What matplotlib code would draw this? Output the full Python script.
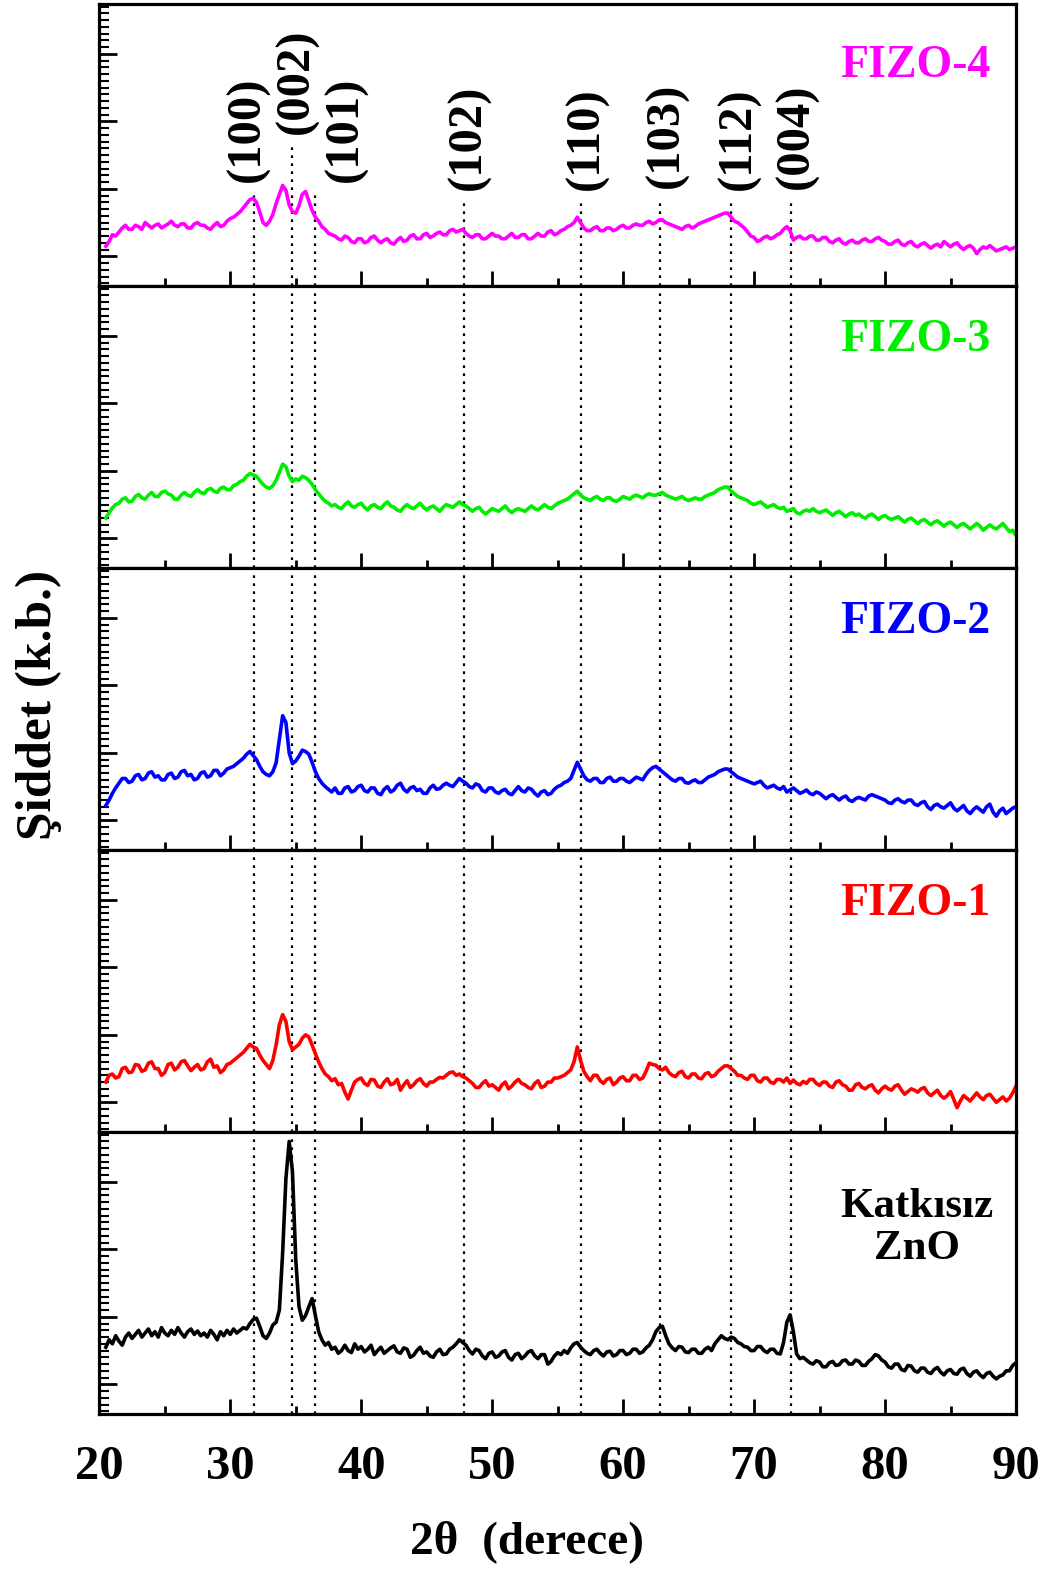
import numpy as np
import matplotlib
matplotlib.use("Agg")
import matplotlib.pyplot as plt
from matplotlib.ticker import MultipleLocator, NullFormatter

plt.rcParams['font.family'] = ['Liberation Serif', 'DejaVu Serif']
plt.rcParams['font.weight'] = 'bold'

# Scan angles (2-theta, degrees), 0.25 degree step
two_theta = np.arange(20.5, 90.001, 0.25)

# Intensities (arbitrary units) for each sample, one row per 2.5 degrees
zno = [
    0.55, 0.66, 0.60, 0.72, 0.64, 0.58, 0.70, 0.76, 0.68, 0.74,
    0.80, 0.70, 0.76, 0.82, 0.72, 0.78, 0.70, 0.84, 0.76, 0.72,
    0.80, 0.74, 0.84, 0.76, 0.70, 0.78, 0.82, 0.74, 0.79, 0.72,
    0.76, 0.70, 0.80, 0.74, 0.66, 0.78, 0.72, 0.80, 0.74, 0.82,
    0.76, 0.80, 0.84, 0.82, 0.90, 0.96, 0.98, 0.86, 0.72, 0.68,
    0.76, 0.88, 0.92, 1.10, 1.95, 3.05, 3.60, 3.15, 1.85, 1.15,
    0.95, 1.02, 1.15, 1.27, 1.02, 0.78, 0.66, 0.58, 0.62, 0.52,
    0.55, 0.46, 0.50, 0.58, 0.50, 0.47, 0.60, 0.52, 0.56, 0.48,
    0.52, 0.58, 0.44, 0.50, 0.55, 0.46, 0.50, 0.54, 0.57, 0.48,
    0.46, 0.54, 0.52, 0.40, 0.43, 0.50, 0.55, 0.46, 0.48, 0.42,
    0.40, 0.48, 0.52, 0.44, 0.45, 0.52, 0.55, 0.60, 0.66, 0.62,
    0.58, 0.50, 0.45, 0.52, 0.50, 0.42, 0.38, 0.46, 0.48, 0.40,
    0.42, 0.48, 0.50, 0.40, 0.36, 0.44, 0.46, 0.38, 0.42, 0.48,
    0.50, 0.42, 0.38, 0.44, 0.44, 0.30, 0.34, 0.42, 0.47, 0.44,
    0.50, 0.46, 0.54, 0.60, 0.62, 0.55, 0.50, 0.46, 0.44, 0.50,
    0.52, 0.46, 0.42, 0.48, 0.49, 0.42, 0.44, 0.50, 0.50, 0.44,
    0.46, 0.52, 0.52, 0.46, 0.48, 0.54, 0.58, 0.66, 0.78, 0.84,
    0.86, 0.72, 0.60, 0.54, 0.50, 0.56, 0.55, 0.48, 0.47, 0.52,
    0.52, 0.46, 0.46, 0.52, 0.55, 0.50, 0.60, 0.66, 0.72, 0.68,
    0.66, 0.70, 0.68, 0.62, 0.60, 0.56, 0.55, 0.50, 0.50, 0.56,
    0.56, 0.50, 0.47, 0.52, 0.52, 0.46, 0.45, 0.62, 0.92, 1.03,
    0.78, 0.45, 0.38, 0.40, 0.36, 0.32, 0.30, 0.35, 0.33, 0.26,
    0.26, 0.32, 0.34, 0.28, 0.29, 0.35, 0.36, 0.30, 0.30, 0.36,
    0.34, 0.28, 0.28, 0.34, 0.38, 0.44, 0.42, 0.36, 0.33, 0.26,
    0.24, 0.30, 0.30, 0.22, 0.20, 0.28, 0.27, 0.20, 0.18, 0.24,
    0.24, 0.18, 0.16, 0.22, 0.25, 0.18, 0.14, 0.20, 0.22, 0.16,
    0.15, 0.22, 0.24, 0.16, 0.12, 0.18, 0.20, 0.14, 0.10, 0.16,
    0.18, 0.12, 0.08, 0.12, 0.14, 0.20, 0.20, 0.28, 0.32,
]

fizo1 = [
    0.30, 0.40, 0.42, 0.36, 0.38, 0.50, 0.52, 0.44, 0.45, 0.56,
    0.55, 0.46, 0.48, 0.58, 0.60, 0.50, 0.50, 0.40, 0.44, 0.56,
    0.58, 0.48, 0.52, 0.60, 0.62, 0.54, 0.47, 0.52, 0.56, 0.48,
    0.50, 0.60, 0.64, 0.52, 0.54, 0.44, 0.48, 0.56, 0.58, 0.62,
    0.66, 0.70, 0.74, 0.80, 0.86, 0.82, 0.80, 0.70, 0.62, 0.56,
    0.50, 0.62, 0.85, 1.15, 1.30, 1.20, 0.90, 0.78, 0.82, 0.86,
    0.95, 1.00, 0.97, 0.85, 0.72, 0.60, 0.50, 0.42, 0.38, 0.32,
    0.35, 0.26, 0.28, 0.15, 0.05, 0.18, 0.30, 0.34, 0.36, 0.28,
    0.25, 0.34, 0.33, 0.24, 0.22, 0.30, 0.35, 0.26, 0.28, 0.34,
    0.18, 0.26, 0.32, 0.22, 0.26, 0.32, 0.35, 0.28, 0.24, 0.30,
    0.30, 0.34, 0.37, 0.36, 0.40, 0.44, 0.45, 0.40, 0.42, 0.38,
    0.36, 0.32, 0.28, 0.22, 0.22, 0.28, 0.32, 0.24, 0.26, 0.22,
    0.18, 0.26, 0.30, 0.20, 0.24, 0.30, 0.34, 0.28, 0.26, 0.22,
    0.20, 0.28, 0.32, 0.22, 0.24, 0.30, 0.30, 0.36, 0.36, 0.38,
    0.40, 0.44, 0.48, 0.60, 0.82, 0.62, 0.46, 0.38, 0.32, 0.40,
    0.40, 0.32, 0.28, 0.34, 0.36, 0.26, 0.30, 0.36, 0.38, 0.32,
    0.32, 0.40, 0.40, 0.34, 0.36, 0.46, 0.58, 0.56, 0.55, 0.50,
    0.48, 0.52, 0.44, 0.40, 0.38, 0.44, 0.46, 0.38, 0.36, 0.42,
    0.42, 0.36, 0.35, 0.42, 0.44, 0.38, 0.40, 0.46, 0.50, 0.54,
    0.54, 0.50, 0.46, 0.40, 0.40, 0.36, 0.34, 0.40, 0.40, 0.32,
    0.30, 0.36, 0.36, 0.30, 0.28, 0.34, 0.34, 0.30, 0.36, 0.28,
    0.33, 0.28, 0.26, 0.31, 0.28, 0.34, 0.34, 0.28, 0.25, 0.30,
    0.30, 0.24, 0.22, 0.30, 0.32, 0.26, 0.24, 0.18, 0.18, 0.26,
    0.28, 0.22, 0.20, 0.24, 0.26, 0.18, 0.14, 0.20, 0.24, 0.20,
    0.18, 0.24, 0.26, 0.18, 0.12, 0.16, 0.20, 0.18, 0.15, 0.20,
    0.22, 0.14, 0.10, 0.14, 0.18, 0.10, 0.06, 0.10, 0.16, 0.04,
    -0.08, 0.02, 0.10, 0.06, 0.02, 0.08, 0.14, 0.08, 0.04, 0.10,
    0.12, 0.06, 0.00, 0.04, 0.08, 0.02, 0.06, 0.14, 0.24,
]

fizo2 = [
    0.22, 0.30, 0.40, 0.48, 0.55, 0.62, 0.62, 0.56, 0.58, 0.66,
    0.68, 0.60, 0.62, 0.70, 0.72, 0.64, 0.66, 0.60, 0.60, 0.68,
    0.70, 0.62, 0.64, 0.72, 0.74, 0.66, 0.68, 0.60, 0.62, 0.70,
    0.72, 0.64, 0.66, 0.74, 0.74, 0.66, 0.70, 0.76, 0.78, 0.80,
    0.84, 0.88, 0.92, 0.98, 1.02, 0.96, 0.90, 0.80, 0.72, 0.68,
    0.66, 0.72, 0.85, 1.20, 1.55, 1.45, 1.00, 0.84, 0.88, 0.95,
    1.04, 1.02, 0.98, 0.86, 0.72, 0.62, 0.55, 0.50, 0.46, 0.42,
    0.48, 0.40, 0.40, 0.48, 0.50, 0.42, 0.44, 0.50, 0.52, 0.44,
    0.42, 0.48, 0.48, 0.40, 0.38, 0.46, 0.50, 0.42, 0.45, 0.52,
    0.55, 0.46, 0.42, 0.48, 0.50, 0.44, 0.46, 0.40, 0.40, 0.48,
    0.52, 0.46, 0.47, 0.52, 0.55, 0.52, 0.50, 0.56, 0.62, 0.58,
    0.55, 0.50, 0.48, 0.54, 0.52, 0.44, 0.42, 0.48, 0.48, 0.42,
    0.40, 0.44, 0.46, 0.40, 0.38, 0.44, 0.50, 0.44, 0.42, 0.48,
    0.46, 0.40, 0.36, 0.42, 0.44, 0.38, 0.40, 0.46, 0.50, 0.52,
    0.56, 0.58, 0.62, 0.74, 0.86, 0.76, 0.66, 0.60, 0.58, 0.62,
    0.62, 0.56, 0.56, 0.62, 0.64, 0.58, 0.58, 0.62, 0.62, 0.58,
    0.56, 0.60, 0.64, 0.62, 0.60, 0.68, 0.74, 0.78, 0.80, 0.76,
    0.72, 0.68, 0.64, 0.60, 0.58, 0.62, 0.62, 0.56, 0.55, 0.58,
    0.60, 0.56, 0.56, 0.60, 0.64, 0.66, 0.68, 0.72, 0.74, 0.76,
    0.76, 0.72, 0.68, 0.64, 0.62, 0.60, 0.58, 0.56, 0.54, 0.56,
    0.58, 0.52, 0.48, 0.50, 0.52, 0.48, 0.46, 0.50, 0.42, 0.45,
    0.48, 0.44, 0.40, 0.42, 0.45, 0.40, 0.38, 0.42, 0.40, 0.36,
    0.32, 0.36, 0.38, 0.34, 0.30, 0.34, 0.36, 0.30, 0.28, 0.32,
    0.34, 0.32, 0.30, 0.36, 0.38, 0.36, 0.34, 0.32, 0.30, 0.26,
    0.25, 0.30, 0.32, 0.28, 0.26, 0.30, 0.30, 0.24, 0.22, 0.26,
    0.28, 0.20, 0.16, 0.22, 0.24, 0.20, 0.18, 0.22, 0.26, 0.18,
    0.14, 0.18, 0.22, 0.14, 0.10, 0.16, 0.20, 0.16, 0.12, 0.20,
    0.24, 0.12, 0.06, 0.14, 0.18, 0.10, 0.14, 0.18, 0.20,
]

fizo3 = [
    0.30, 0.38, 0.45, 0.50, 0.52, 0.58, 0.60, 0.54, 0.55, 0.62,
    0.65, 0.60, 0.58, 0.64, 0.68, 0.62, 0.62, 0.68, 0.70, 0.66,
    0.64, 0.58, 0.58, 0.64, 0.68, 0.64, 0.62, 0.68, 0.72, 0.68,
    0.66, 0.72, 0.74, 0.70, 0.68, 0.74, 0.76, 0.72, 0.72, 0.78,
    0.80, 0.84, 0.86, 0.92, 0.96, 0.94, 0.92, 0.86, 0.80, 0.76,
    0.74, 0.78, 0.86, 0.98, 1.10, 1.06, 0.92, 0.84, 0.88, 0.86,
    0.92, 0.90, 0.86, 0.80, 0.72, 0.66, 0.60, 0.55, 0.52, 0.48,
    0.50, 0.46, 0.44, 0.50, 0.54, 0.48, 0.46, 0.50, 0.52, 0.46,
    0.42, 0.48, 0.50, 0.46, 0.44, 0.50, 0.54, 0.48, 0.46, 0.42,
    0.40, 0.46, 0.50, 0.46, 0.44, 0.48, 0.52, 0.46, 0.42, 0.46,
    0.48, 0.44, 0.40, 0.46, 0.50, 0.48, 0.46, 0.50, 0.54, 0.50,
    0.48, 0.44, 0.40, 0.44, 0.46, 0.40, 0.36, 0.40, 0.44, 0.42,
    0.40, 0.44, 0.48, 0.42, 0.38, 0.42, 0.44, 0.42, 0.40, 0.44,
    0.48, 0.44, 0.42, 0.46, 0.50, 0.46, 0.44, 0.48, 0.52, 0.54,
    0.56, 0.58, 0.62, 0.66, 0.70, 0.64, 0.60, 0.58, 0.56, 0.60,
    0.62, 0.58, 0.56, 0.60, 0.60, 0.56, 0.55, 0.58, 0.62, 0.60,
    0.58, 0.62, 0.64, 0.62, 0.60, 0.64, 0.66, 0.64, 0.64, 0.66,
    0.68, 0.64, 0.62, 0.60, 0.58, 0.60, 0.62, 0.58, 0.56, 0.58,
    0.60, 0.58, 0.58, 0.62, 0.64, 0.66, 0.68, 0.72, 0.74, 0.76,
    0.76, 0.70, 0.66, 0.62, 0.60, 0.58, 0.56, 0.52, 0.50, 0.52,
    0.54, 0.50, 0.46, 0.48, 0.50, 0.46, 0.44, 0.46, 0.40, 0.42,
    0.44, 0.38, 0.36, 0.40, 0.42, 0.40, 0.44, 0.40, 0.38, 0.40,
    0.42, 0.38, 0.34, 0.38, 0.40, 0.36, 0.32, 0.36, 0.38, 0.34,
    0.36, 0.32, 0.30, 0.34, 0.36, 0.32, 0.28, 0.32, 0.34, 0.30,
    0.28, 0.30, 0.32, 0.28, 0.24, 0.28, 0.30, 0.26, 0.22, 0.26,
    0.28, 0.24, 0.20, 0.24, 0.26, 0.22, 0.18, 0.22, 0.24, 0.20,
    0.16, 0.20, 0.22, 0.18, 0.14, 0.18, 0.22, 0.18, 0.12, 0.16,
    0.20, 0.16, 0.14, 0.18, 0.22, 0.16, 0.10, 0.12, 0.04,
]

fizo4 = [
    0.15, 0.22, 0.32, 0.30, 0.36, 0.42, 0.46, 0.40, 0.40, 0.46,
    0.44, 0.40, 0.50, 0.46, 0.42, 0.46, 0.48, 0.42, 0.45, 0.48,
    0.52, 0.46, 0.44, 0.48, 0.48, 0.42, 0.42, 0.48, 0.50, 0.46,
    0.46, 0.42, 0.40, 0.46, 0.50, 0.44, 0.46, 0.52, 0.56, 0.58,
    0.62, 0.66, 0.72, 0.78, 0.84, 0.86, 0.80, 0.66, 0.50, 0.46,
    0.52, 0.62, 0.78, 0.92, 1.05, 0.98, 0.76, 0.66, 0.64, 0.75,
    0.92, 0.96, 0.82, 0.68, 0.58, 0.52, 0.44, 0.40, 0.34, 0.32,
    0.30, 0.26, 0.24, 0.30, 0.28, 0.22, 0.20, 0.26, 0.26, 0.20,
    0.22, 0.28, 0.30, 0.24, 0.20, 0.24, 0.26, 0.20, 0.18, 0.24,
    0.28, 0.22, 0.24, 0.30, 0.32, 0.26, 0.26, 0.32, 0.34, 0.28,
    0.30, 0.34, 0.36, 0.32, 0.32, 0.38, 0.40, 0.36, 0.38, 0.40,
    0.34, 0.30, 0.28, 0.32, 0.32, 0.26, 0.26, 0.30, 0.34, 0.30,
    0.30, 0.26, 0.26, 0.30, 0.34, 0.28, 0.28, 0.32, 0.32, 0.26,
    0.26, 0.30, 0.34, 0.30, 0.30, 0.36, 0.38, 0.32, 0.34, 0.38,
    0.40, 0.44, 0.46, 0.50, 0.58, 0.50, 0.42, 0.38, 0.38, 0.42,
    0.44, 0.38, 0.38, 0.42, 0.42, 0.38, 0.40, 0.44, 0.46, 0.42,
    0.42, 0.46, 0.48, 0.46, 0.46, 0.50, 0.52, 0.48, 0.50, 0.54,
    0.54, 0.50, 0.48, 0.46, 0.44, 0.42, 0.40, 0.44, 0.46, 0.42,
    0.44, 0.48, 0.50, 0.52, 0.54, 0.56, 0.58, 0.60, 0.62, 0.64,
    0.64, 0.58, 0.52, 0.50, 0.46, 0.42, 0.36, 0.30, 0.28, 0.22,
    0.24, 0.28, 0.30, 0.26, 0.28, 0.32, 0.34, 0.40, 0.44, 0.38,
    0.24, 0.28, 0.30, 0.26, 0.26, 0.30, 0.30, 0.24, 0.24, 0.28,
    0.28, 0.22, 0.20, 0.24, 0.26, 0.20, 0.18, 0.22, 0.24, 0.20,
    0.20, 0.24, 0.26, 0.22, 0.22, 0.26, 0.28, 0.24, 0.22, 0.18,
    0.18, 0.22, 0.24, 0.18, 0.16, 0.20, 0.22, 0.16, 0.14, 0.18,
    0.20, 0.16, 0.12, 0.16, 0.18, 0.14, 0.22, 0.18, 0.14, 0.18,
    0.20, 0.14, 0.10, 0.14, 0.16, 0.12, 0.04, 0.10, 0.14, 0.12,
    0.16, 0.12, 0.08, 0.10, 0.12, 0.14, 0.10, 0.12, 0.14,
]

# Panels from top to bottom
sample_names = ["FIZO-4", "FIZO-3", "FIZO-2", "FIZO-1", "Katkısız\nZnO"]
sample_data = [fizo4, fizo3, fizo2, fizo1, zno]
sample_colors = ["#ff00ff", "#00ee00", "#0000ff", "#ff0000", "#000000"]

# Hexagonal ZnO reflections
peak_positions = [31.8, 34.7, 36.5, 47.85, 56.75, 62.8, 68.25, 72.8]
peak_hkl = ["(100)", "(002)", "(101)", "(102)", "(110)", "(103)", "(112)", "(004)"]

# Label placement in the top panel: centre x and lower end y (data units)
hkl_label_x = [31.35, 35.1, 38.8, 48.2, 57.2, 63.3, 68.8, 73.25]
hkl_label_y = [1.10, 1.82, 1.10, 0.98, 0.98, 1.02, 0.98, 1.00]

for s in sample_data:
    assert len(s) == len(two_theta), (len(s), len(two_theta))

W, H = 1054, 1572
fig = plt.figure(figsize=(W / 100, H / 100), dpi=100)

left_px, right_px = 99.3, 1016.0
top_px, bottom_px = 4.0, 1414.0
n = len(sample_names)
panel_h = (bottom_px - top_px) / n

ylo, yhi = -0.44, 3.74
dot_style = dict(color='black', lw=1.6, ls=(0, (1.2, 2.4)), zorder=0)
axes = []
for i in range(n):
    y0 = bottom_px - (n - 1 - i) * panel_h - panel_h
    ax = fig.add_axes([left_px / W, 1 - (y0 + panel_h) / H,
                       (right_px - left_px) / W, panel_h / H])
    axes.append(ax)
    ax.plot(two_theta, sample_data[i], color=sample_colors[i], lw=2.6,
            solid_joinstyle='round')
    ax.set_xlim(20, 90)
    ax.set_ylim(ylo, yhi)
    for sp in ax.spines.values():
        sp.set_linewidth(2.3)
    ax.xaxis.set_major_locator(MultipleLocator(10))
    ax.xaxis.set_minor_locator(MultipleLocator(5))
    ax.yaxis.set_major_locator(MultipleLocator(1))
    ax.yaxis.set_minor_locator(MultipleLocator(0.1))
    ax.yaxis.set_major_formatter(NullFormatter())
    ax.tick_params(axis='y', which='major', direction='in', length=13, width=2.0,
                   left=True, right=False)
    ax.tick_params(axis='y', which='minor', direction='in', length=7, width=1.5,
                   left=True, right=False)
    ax.tick_params(axis='x', which='major', direction='in', length=11, width=2.0,
                   top=False, bottom=True, labelsize=35, pad=22)
    ax.tick_params(axis='x', which='minor', direction='in', length=6, width=2.0,
                   top=False, bottom=True)
    if i < n - 1:
        ax.xaxis.set_major_formatter(NullFormatter())
    if i > 0:
        for xp in peak_positions:
            ax.axvline(xp, **dot_style)

# Dotted reference lines in the top panel stop below their labels
ax_top = axes[0]
for xp, ly in zip(peak_positions, hkl_label_y):
    ax_top.plot([xp, xp], [ylo, ly - 0.15], **dot_style)
for txt, lx, ly in zip(peak_hkl, hkl_label_x, hkl_label_y):
    ax_top.text(lx, ly, txt, rotation=90, ha='center', va='bottom',
                fontsize=35, fontweight='bold')

# Sample names
name_pos = [(0.972, 0.78), (0.972, 0.81), (0.972, 0.81), (0.972, 0.81)]
for i in range(4):
    axes[i].text(name_pos[i][0], name_pos[i][1], sample_names[i],
                 transform=axes[i].transAxes, ha='right', va='center',
                 fontsize=33, fontweight='bold', color=sample_colors[i])
axes[4].text(0.892, 0.66, sample_names[4], transform=axes[4].transAxes,
             ha='center', va='center', fontsize=31, fontweight='bold',
             color=sample_colors[4], linespacing=1.15)

for lbl in axes[-1].get_xticklabels():
    lbl.set_fontweight('bold')

fig.text(0.5, 1 - 1542 / H, "2θ  (derece)", ha='center', va='center',
         fontsize=34, fontweight='bold')
fig.text(39 / W, 1 - 705 / H, "Şiddet (k.b.)", ha='center', va='center',
         rotation=90, fontsize=37, fontweight='bold')

fig.savefig("out.png", dpi=100)
